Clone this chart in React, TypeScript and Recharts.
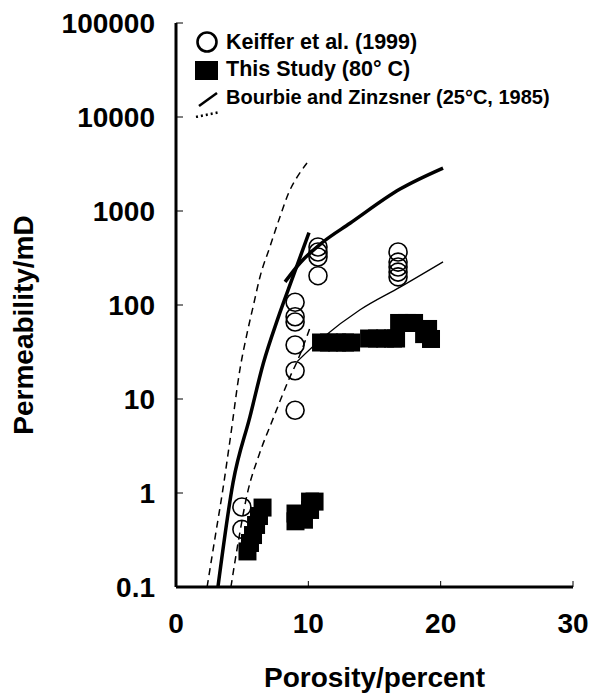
import {
  ComposedChart,
  Line,
  Scatter,
  XAxis,
  YAxis,
  Label,
} from 'recharts';

// Bourbie and Zinzsner (25°C, 1985) curves
const bzThickLow = [
  { x: 3.17, y: 0.1 },
  { x: 4.31, y: 1.29 },
  { x: 5.59, y: 6.5 },
  { x: 6.6, y: 24 },
  { x: 7.7, y: 72 },
  { x: 8.84, y: 200 },
  { x: 10.05, y: 590 },
];

const bzThickHigh = [
  { x: 8.24, y: 176 },
  { x: 9.37, y: 280 },
  { x: 11.11, y: 468 },
  { x: 13.15, y: 740 },
  { x: 16.93, y: 1710 },
  { x: 20.18, y: 2860 },
];

const bzThin = [
  { x: 9.15, y: 25 },
  { x: 11.11, y: 45 },
  { x: 13.91, y: 89 },
  { x: 16.93, y: 155 },
  { x: 20.18, y: 288 },
];

const bzDashedLeft = [
  { x: 2.35, y: 0.1 },
  { x: 3.0, y: 0.37 },
  { x: 3.5, y: 1.0 },
  { x: 4.1, y: 3.8 },
  { x: 4.84, y: 21 },
  { x: 5.37, y: 50 },
  { x: 5.82, y: 95 },
  { x: 6.35, y: 200 },
  { x: 7.1, y: 417 },
  { x: 7.86, y: 870 },
  { x: 8.6, y: 1660 },
  { x: 9.15, y: 2290 },
  { x: 9.9, y: 3240 },
];

const bzDashedRight = [
  { x: 4.15, y: 0.1 },
  { x: 4.7, y: 0.3 },
  { x: 5.4, y: 1.0 },
  { x: 6.3, y: 2.6 },
  { x: 7.3, y: 6 },
  { x: 8.6, y: 17 },
  { x: 9.2, y: 26 },
  { x: 10.1, y: 56 },
];

// Keiffer et al. (1999)
const keiffer = [
  { x: 4.98, y: 0.71 },
  { x: 4.98, y: 0.41 },
  { x: 9.0, y: 107 },
  { x: 9.0, y: 75 },
  { x: 9.0, y: 66 },
  { x: 9.0, y: 37.5 },
  { x: 9.0, y: 20 },
  { x: 9.0, y: 7.6 },
  { x: 10.73, y: 414 },
  { x: 10.73, y: 366 },
  { x: 10.73, y: 324 },
  { x: 10.73, y: 205 },
  { x: 16.78, y: 366 },
  { x: 16.78, y: 286 },
  { x: 16.78, y: 254 },
  { x: 16.78, y: 224 },
  { x: 16.78, y: 199 },
];

// This study (80° C)
const thisStudy = [
  { x: 5.4, y: 0.239 },
  { x: 5.59, y: 0.294 },
  { x: 5.82, y: 0.357 },
  { x: 6.05, y: 0.457 },
  { x: 6.27, y: 0.569 },
  { x: 6.54, y: 0.7 },
  { x: 9.03, y: 0.5 },
  { x: 9.03, y: 0.605 },
  { x: 9.67, y: 0.52 },
  { x: 10.13, y: 0.66 },
  { x: 10.47, y: 0.81 },
  { x: 10.13, y: 0.81 },
  { x: 10.96, y: 39.9 },
  { x: 11.56, y: 39.9 },
  { x: 12.17, y: 39.9 },
  { x: 12.77, y: 39.9 },
  { x: 13.23, y: 39.9 },
  { x: 14.59, y: 44 },
  { x: 15.19, y: 44 },
  { x: 15.8, y: 44 },
  { x: 16.4, y: 44 },
  { x: 16.63, y: 44 },
  { x: 16.86, y: 64.4 },
  { x: 17.46, y: 64.4 },
  { x: 17.99, y: 64.4 },
  { x: 19.05, y: 55.6 },
  { x: 19.27, y: 43.5 },
  { x: 18.75, y: 49 },
];

const xTicks = [0, 10, 20, 30];
const yTicks = [0.1, 1, 10, 100, 1000, 10000, 100000];
const xRange = [0, 30];
const yRange = [0.1, 100000];

const FONT = '"Liberation Sans", Arial, Helvetica, sans-serif';
const frame = { stroke: '#000', strokeWidth: 3 };
const thinTick = { stroke: '#000', strokeWidth: 1 };
const tickFont = { fill: '#000', fontSize: 28, fontWeight: 'bold', fontFamily: FONT };

const OpenCircle = (props: any) => {
  const { cx, cy } = props;
  return <circle cx={cx} cy={cy} r={9} fill="none" stroke="#000" strokeWidth={1.6} />;
};

const FilledSquare = (props: any) => {
  const { cx, cy } = props;
  return <rect x={cx - 9} y={cy - 9} width={18} height={18} fill="#000" />;
};

const XTitle = (props: any) => {
  const { viewBox } = props;
  const cx = viewBox.x + viewBox.width / 2;
  return (
    <text x={cx} y={687} textAnchor="middle" fontFamily={FONT} fontWeight="bold" fontSize={28} fill="#000">
      Porosity/percent
    </text>
  );
};

const YTitle = (props: any) => {
  const { viewBox } = props;
  const cy = viewBox.y + viewBox.height / 2 + 20;
  return (
    <text
      x={33}
      y={cy}
      transform={`rotate(-90, 33, ${cy})`}
      textAnchor="middle"
      fontFamily={FONT}
      fontWeight="bold"
      fontSize={28}
      fill="#000"
    >
      Permeability/mD
    </text>
  );
};

const legendText = { position: 'absolute' as const, left: 226, fontFamily: FONT, fontWeight: 'bold' as const, color: '#000', whiteSpace: 'nowrap' as const, lineHeight: 1 };

const plain = { dot: false, activeDot: false, isAnimationActive: false, stroke: '#000' } as const;

export default function App() {
  return (
    <div style={{ position: 'relative', width: 589, height: 694, background: '#fff', fontFamily: FONT }}>
      <style>{'body{margin:0}'}</style>
      <ComposedChart width={589} height={694} margin={{ top: 23, right: 16, bottom: 0, left: 0 }}>
        <XAxis
          type="number"
          dataKey="x"
          domain={xRange}
          ticks={xTicks}
          height={107}
          axisLine={frame}
          tickLine={thinTick}
          tickSize={-6}
          tickMargin={32}
          tick={tickFont}
        >
          <Label content={XTitle} />
        </XAxis>
        {/* top edge of the box */}
        <XAxis xAxisId="top" orientation="top" type="number" domain={xRange} height={0} tick={false} tickLine={false} axisLine={frame} />
        <YAxis
          type="number"
          dataKey="y"
          scale="log"
          domain={yRange}
          ticks={yTicks}
          width={176}
          axisLine={frame}
          tickLine={thinTick}
          tickSize={-7}
          tickMargin={28}
          tickFormatter={(v: number) => String(v)}
          tick={tickFont}
        >
          <Label content={YTitle} />
        </YAxis>
        {/* right edge of the box */}
        <YAxis yAxisId="right" orientation="right" type="number" domain={[0, 1]} width={0} tick={false} tickLine={false} axisLine={frame} />

        <Line data={bzDashedLeft} dataKey="y" type="monotone" strokeWidth={1.5} strokeDasharray="7 5" {...plain} />
        <Line data={bzDashedRight} dataKey="y" type="monotone" strokeWidth={1.5} strokeDasharray="7 5" {...plain} />
        <Line data={bzThin} dataKey="y" type="monotone" strokeWidth={1.3} {...plain} />
        <Line data={bzThickLow} dataKey="y" type="monotone" strokeWidth={3.5} {...plain} />
        <Line data={bzThickHigh} dataKey="y" type="monotone" strokeWidth={3.5} {...plain} />

        <Scatter data={keiffer} dataKey="y" shape={OpenCircle} isAnimationActive={false} />
        <Scatter data={thisStudy} dataKey="y" shape={FilledSquare} isAnimationActive={false} />
      </ComposedChart>

      {/* legend, top left inside the plot */}
      <svg width={30} height={90} style={{ position: 'absolute', left: 190, top: 28 }}>
        <circle cx={17} cy={14} r={9.5} fill="none" stroke="#000" strokeWidth={2.6} />
        <rect x={5} y={33} width={23} height={19} fill="#000" />
        <line x1={9} y1={78} x2={27} y2={65} stroke="#000" strokeWidth={2.5} />
        <line x1={6} y1={89} x2={30} y2={84} stroke="#000" strokeWidth={2.5} strokeDasharray="2 3" />
      </svg>
      <div style={{ ...legendText, top: 32, fontSize: 21.5 }}>Keiffer et al. (1999)</div>
      <div style={{ ...legendText, top: 59, fontSize: 21.5 }}>This Study (80° C)</div>
      <div style={{ ...legendText, top: 87, fontSize: 20 }}>Bourbie and Zinzsner (25°C, 1985)</div>
    </div>
  );
}
